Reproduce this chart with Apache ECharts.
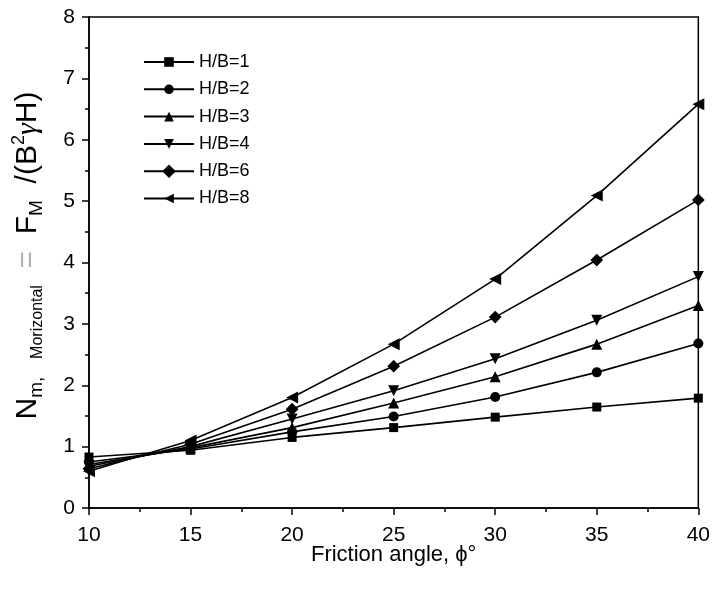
<!DOCTYPE html>
<html>
<head>
<meta charset="utf-8">
<script src="https://cdn.jsdelivr.net/npm/echarts@6/dist/echarts.min.js"></script>
<style>
html,body{margin:0;padding:0;background:#fff;}
#chart{width:713px;height:590px;}
</style>
</head>
<body>
<div id="chart"></div>
<script>
const frictionAngles = [10, 15, 20, 25, 30, 35, 40];
const seriesNames = ['H/B=1', 'H/B=2', 'H/B=3', 'H/B=4', 'H/B=6', 'H/B=8'];
const hb1 = [0.83, 0.94, 1.15, 1.31, 1.48, 1.645, 1.79];
const hb2 = [0.75, 0.96, 1.24, 1.49, 1.81, 2.21, 2.68];
const hb3 = [0.71, 0.98, 1.31, 1.71, 2.14, 2.67, 3.30];
const hb4 = [0.68, 1.00, 1.45, 1.91, 2.43, 3.06, 3.77];
const hb6 = [0.64, 1.04, 1.61, 2.31, 3.11, 4.04, 5.02];
const hb8 = [0.60, 1.10, 1.80, 2.67, 3.73, 5.09, 6.58];
const xTicks = [10, 15, 20, 25, 30, 35, 40];
const yTicks = [0, 1, 2, 3, 4, 5, 6, 7, 8];

const allValues = [hb1, hb2, hb3, hb4, hb6, hb8];
const symbols = [
  {symbol: 'rect', size: 9, rotate: 0},
  {symbol: 'circle', size: 10, rotate: 0},
  {symbol: 'triangle', size: 11, rotate: 0},
  {symbol: 'triangle', size: 11, rotate: 180},
  {symbol: 'rect', size: 9, rotate: 45},
  {symbol: 'triangle', size: 12, rotate: 90}
];

const FONT = '"Liberation Sans", Arial, sans-serif';

const series = seriesNames.map((name, i) => ({
  name: name,
  type: 'line',
  data: frictionAngles.map((x, j) => [x, allValues[i][j]]),
  symbol: symbols[i].symbol,
  symbolSize: symbols[i].size,
  symbolRotate: symbols[i].rotate,
  lineStyle: {color: '#000', width: 1.6},
  itemStyle: {color: '#000'},
  emphasis: {disabled: true},
  z: 3
}));

const chart = echarts.init(document.getElementById('chart'));
chart.setOption({
  animation: false,
  backgroundColor: '#fff',
  grid: {left: 89, right: 13, top: 17, bottom: 82, show: true, borderColor: '#000', borderWidth: 1.5},
  legend: {
    left: 143,
    top: 53,
    padding: 0,
    orient: 'vertical',
    itemWidth: 50,
    itemHeight: 12,
    itemGap: 9.3,
    data: seriesNames,
    textStyle: {fontFamily: FONT, fontSize: 18, color: '#000'},
    symbolRotate: 'inherit'
  },
  xAxis: {
    type: 'value',
    min: 10, max: 40, interval: 5,
    name: 'Friction angle, ϕ°',
    nameLocation: 'middle',
    nameGap: 36,
    nameMoveOverlap: false,
    nameTextStyle: {fontFamily: FONT, fontSize: 22, color: '#000'},
    axisLine: {show: true, onZero: false, lineStyle: {color: '#000', width: 1.5}},
    axisTick: {show: true, inside: false, length: 7, lineStyle: {color: '#000', width: 1.5}},
    minorTick: {show: true, splitNumber: 2, length: 4, lineStyle: {color: '#000', width: 1.5}},
    splitLine: {show: false},
    axisLabel: {fontFamily: FONT, fontSize: 21, color: '#000', margin: 17,
      formatter: v => xTicks.includes(v) ? String(v) : ''}
  },
  yAxis: {
    type: 'value',
    min: 0, max: 8, interval: 1,
    name: '{big|N}{sub|m,}{sp|    }{sub2|Morizontal}{eq|  =  }{big|F}{sub|M}{big|  /(B}{sup|2}{gam|γ}{big|H)}',
    nameLocation: 'middle',
    nameRotate: 90,
    nameGap: 43,
    nameMoveOverlap: false,
    nameTextStyle: {
      fontFamily: FONT, color: '#000',
      padding: [0, 0, 0, 14],
      rich: {
        big: {fontFamily: FONT, fontSize: 30, color: '#000', lineHeight: 36, verticalAlign: 'middle'},
        sub: {fontFamily: FONT, fontSize: 19, color: '#000', lineHeight: 17, verticalAlign: 'bottom'},
        sp: {fontFamily: FONT, fontSize: 16, color: '#000', lineHeight: 17, verticalAlign: 'bottom'},
        sub2: {fontFamily: FONT, fontSize: 16, color: '#000', lineHeight: 16, verticalAlign: 'bottom'},
        sup: {fontFamily: FONT, fontSize: 18, color: '#000', lineHeight: 23, verticalAlign: 'top'},
        eq: {fontFamily: FONT, fontSize: 30, color: '#b0b0b0', lineHeight: 36, verticalAlign: 'middle'},
        gam: {fontFamily: '"Liberation Serif", serif', fontStyle: 'italic', fontSize: 30, color: '#000', lineHeight: 36, verticalAlign: 'middle'}
      }
    },
    axisLine: {show: true, onZero: false, lineStyle: {color: '#000', width: 1.5}},
    axisTick: {show: true, inside: false, length: 7, lineStyle: {color: '#000', width: 1.5}},
    minorTick: {show: true, splitNumber: 2, length: 4, lineStyle: {color: '#000', width: 1.5}},
    splitLine: {show: false},
    axisLabel: {fontFamily: FONT, fontSize: 21, color: '#000', margin: 14,
      formatter: v => yTicks.includes(v) ? String(v) : ''}
  },
  series: series
});
</script>
</body>
</html>
